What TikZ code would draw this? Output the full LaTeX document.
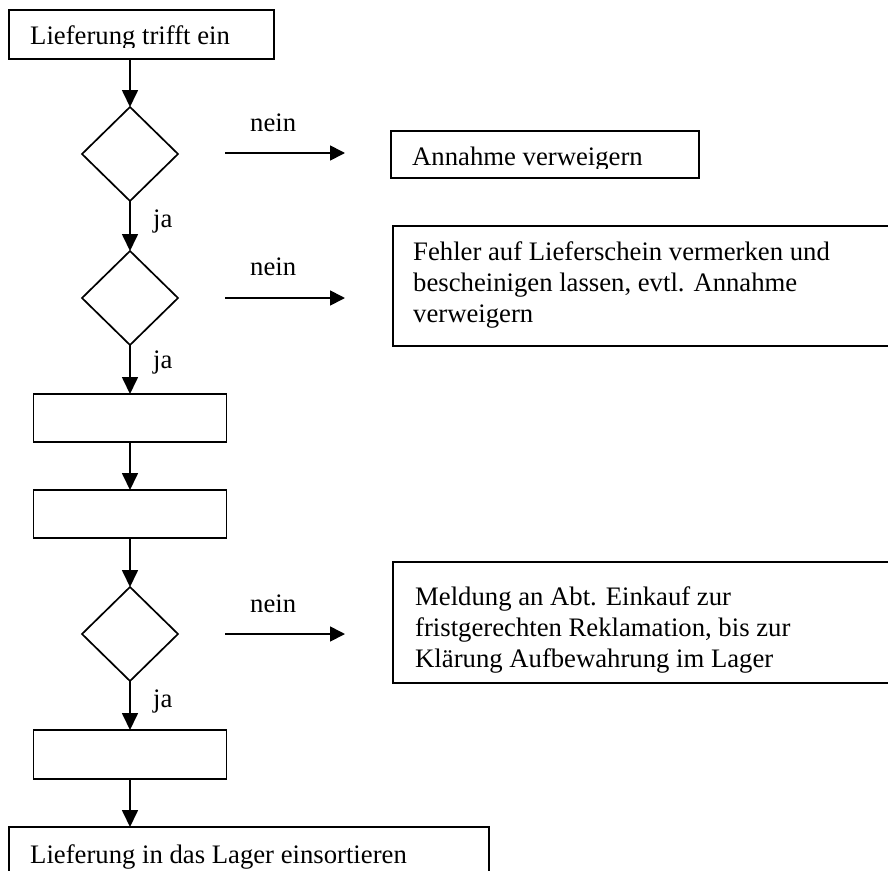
\documentclass[tikz,border=0pt]{standalone}
\usepackage{fontspec}
\setmainfont{Liberation Serif}
\usetikzlibrary{shapes.geometric,arrows.meta}
\tikzset{
  lw/.style={line width=1.7pt},
  box/.style={lw, draw=black, rectangle, inner sep=0pt, outer sep=0pt},
  dia/.style={lw, draw=black, diamond, inner sep=0pt, outer sep=0pt, minimum width=96pt, minimum height=94pt},
  txt/.style={font=\fontsize{26.7}{31}\selectfont, inner sep=0pt, anchor=base west, align=left},
  arr/.style={lw, -{Triangle[length=17pt,width=16pt]}},
  narr/.style={lw, -{Triangle[length=15pt,width=15pt]}},
}
\begin{document}
\begin{tikzpicture}[x=1pt,y=-1pt]
\clip (0,0) rectangle (888,870);
\fill[white] (0,0) rectangle (888,870);
% boxes
\node[box, minimum width=265pt, minimum height=49pt] (b0) at (141.5,34.5) {};
\node[dia] (d1) at (130,154) {};
\node[dia] (d2) at (130,298) {};
\node[box, minimum width=193pt, minimum height=48pt] (b1) at (130,418) {};
\node[box, minimum width=193pt, minimum height=48pt] (b2) at (130,514) {};
\node[dia] (d3) at (130,634) {};
\node[box, minimum width=193pt, minimum height=49pt] (b3) at (130,754.5) {};
\node[box, minimum width=480pt, minimum height=80pt] (b4) at (249,867) {};
\node[box, minimum width=308pt, minimum height=47pt] (r1) at (545,154.5) {};
\node[box, minimum width=520pt, minimum height=120pt] (r2) at (653,286) {};
\node[box, minimum width=520pt, minimum height=121pt] (r3) at (653,622.5) {};
% texts
\begin{scope}
\clip (9,10) rectangle (274,47);
\node[txt] (t0) at (30,44) {Lieferung trifft ein};
\end{scope}
\begin{scope}
\clip (391,131) rectangle (699,168);
\node[txt] (t1) at (412,165) {Annahme verweigern};
\end{scope}
\node[txt] (t2) at (413,322) {Fehler auf Lieferschein vermerken und\\bescheinigen lassen, evtl. Annahme\\verweigern};
\node[txt] (t3) at (415,667) {Meldung an Abt. Einkauf zur\\fristgerechten Reklamation, bis zur\\Klärung Aufbewahrung im Lager};
\node[txt] (t4) at (30,863) {Lieferung in das Lager einsortieren};
% vertical connectors
\draw[arr] (d1.north |- b0.south) -- (d1.north);
\draw[arr] (d1.south) -- (d2.north);
\draw[arr] (d2.south) -- (b1.north);
\draw[arr] (b1.south) -- (b2.north);
\draw[arr] (b2.south) -- (d3.north);
\draw[arr] (d3.south) -- (b3.north);
\draw[arr] (b3.south) -- (b3.south |- b4.north);
% nein arrows
\coordinate (n1s) at (225,153); \coordinate (n1e) at (345,153);
\coordinate (n2s) at (225,298); \coordinate (n2e) at (345,298);
\coordinate (n3s) at (225,634); \coordinate (n3e) at (345,634);
\draw[narr] (n1s) -- (n1e);
\draw[narr] (n2s) -- (n2e);
\draw[narr] (n3s) -- (n3e);
% labels
\node[txt] (l1) at (250,131) {nein};
\node[txt] (l2) at (250,275) {nein};
\node[txt] (l3) at (250,612) {nein};
\node[txt] (j1) at (153,227) {ja};
\node[txt] (j2) at (153,368) {ja};
\node[txt] (j3) at (153,707) {ja};
\end{tikzpicture}
\end{document}
